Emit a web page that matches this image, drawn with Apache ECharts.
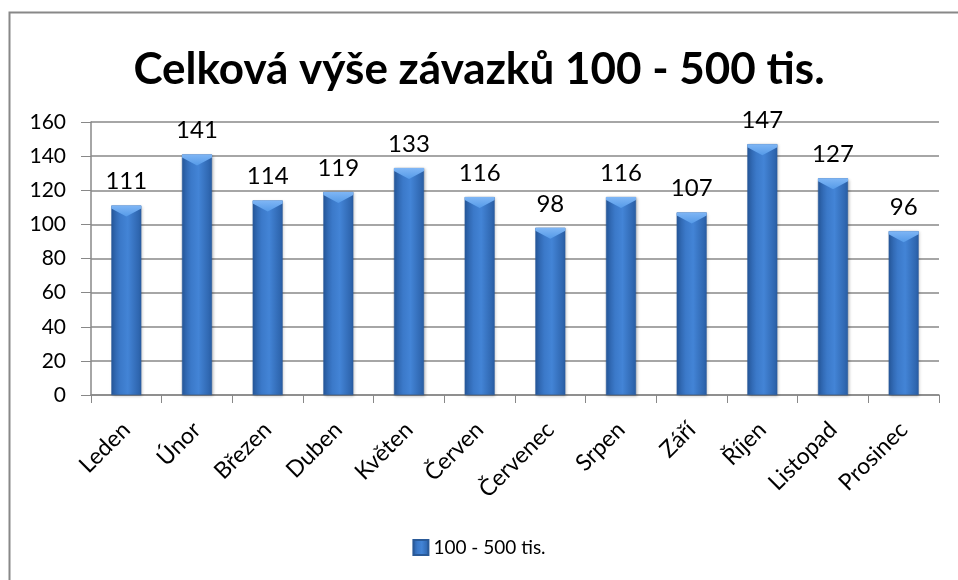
<!DOCTYPE html>
<html>
<head>
<meta charset="utf-8">
<script src="https://cdn.jsdelivr.net/npm/echarts@6/dist/echarts.min.js"></script>
<style>
html,body{margin:0;padding:0;background:#fff;}
#chart{width:958px;height:580px;}
</style>
</head>
<body>
<div id="chart"></div>
<script>
var months=['Leden','Únor','Březen','Duben','Květen','Červen','Červenec','Srpen','Září','Říjen','Listopad','Prosinec'];
var values=[111,141,114,119,133,116,98,116,107,147,127,96];
var seriesName='100 - 500 tis.';
var yTicks={min:0,max:160,interval:20};

var font='Lato, "Open Sans", sans-serif';
var barColor=new echarts.graphic.LinearGradient(0,0,1,0,[
	{offset:0,color:'#275a9f'},
	{offset:0.3,color:'#3b79c9'},
	{offset:0.55,color:'#4384d6'},
	{offset:1,color:'#2a5fa6'}
]);

var chart=echarts.init(document.getElementById('chart'));
var option={
	animation:false,
	backgroundColor:'#fff',
	title:{
		text:'Celková výše závazků 100 - 500 tis.',
		left:'center',
		top:43,
		textStyle:{fontFamily:font,fontSize:44,fontWeight:'bold',color:'#000'}
	},
	grid:{left:91,right:19,top:122,bottom:185},
	legend:{
		bottom:18,
		left:'center',
		itemWidth:15,
		itemHeight:15,
		itemGap:4,
		textStyle:{fontFamily:font,fontSize:19,color:'#000'},
		data:[{name:seriesName,icon:'rect'}]
	},
	xAxis:{
		type:'category',
		data:months,
		axisLine:{lineStyle:{color:'#888',width:1.5}},
		axisTick:{show:true,length:8,lineStyle:{color:'#888'}},
		axisLabel:{rotate:45,fontFamily:font,fontSize:23,color:'#000',margin:31,interval:0}
	},
	yAxis:{
		type:'value',
		min:yTicks.min,max:yTicks.max,interval:yTicks.interval,
		axisLine:{show:true,lineStyle:{color:'#888',width:1.5}},
		axisTick:{show:true,length:10,inside:false,lineStyle:{color:'#888'}},
		splitLine:{lineStyle:{color:'#888',width:1.5}},
		axisLabel:{fontFamily:font,fontSize:21,color:'#000',margin:25}
	},
	series:[{
		name:seriesName,
		type:'bar',
		data:values,
		barWidth:30,
		itemStyle:{color:barColor,borderColor:'#2a5a98',borderWidth:0.5,shadowColor:'rgba(0,0,0,0.25)',shadowBlur:3,shadowOffsetX:1,shadowOffsetY:1},
		label:{show:true,position:'top',distance:12,fontFamily:font,fontSize:24,color:'#000'}
	},{
		name:'cap',
		type:'pictorialBar',
		data:values,
		symbol:'path://M0,0 L30,0 L30,3 L15,11 L0,3 Z',
		symbolSize:[30,11],
		symbolPosition:'end',
		symbolOffset:[0,0],
		silent:true,
		z:5,
		itemStyle:{color:new echarts.graphic.LinearGradient(0,0,0,1,[
			{offset:0,color:'#7fb6f5'},
			{offset:1,color:'#559ae8'}
		])}
	}],
	graphic:[{
		type:'rect',
		left:7,top:10,
		shape:{width:1000,height:1000},
		style:{fill:'none',stroke:'#888',lineWidth:2},
		silent:true
	}]
};
chart.setOption(option);
</script>
</body>
</html>
